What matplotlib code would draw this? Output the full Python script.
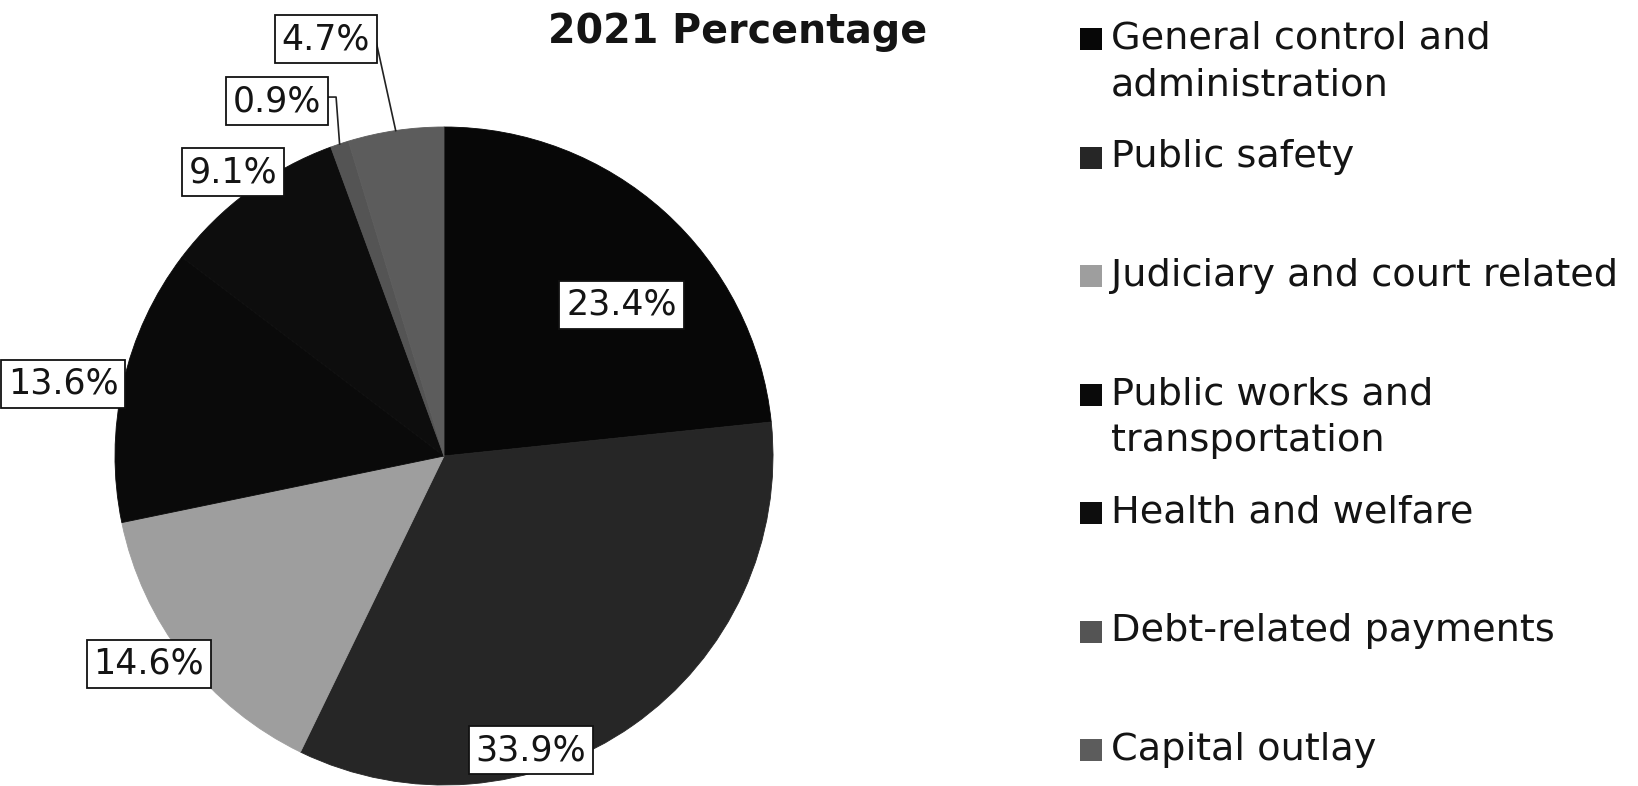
import matplotlib
matplotlib.use("Agg")
import matplotlib.pyplot as plt
from matplotlib.patches import Rectangle
import numpy as np

categories = ["General control and\nadministration", "Public safety",
              "Judiciary and court related", "Public works and\ntransportation",
              "Health and welfare", "Debt-related payments", "Capital outlay"]
values = [23.4, 33.9, 14.6, 13.6, 9.1, 0.9, 4.7]
labels = ["23.4%", "33.9%", "14.6%", "13.6%", "9.1%", "0.9%", "4.7%"]
colors = ["#070707", "#262626", "#9e9e9e", "#0a0a0a", "#0d0d0d", "#545454", "#5c5c5c"]
title = "2021 Percentage"

W, H = 1638, 786
fig = plt.figure(figsize=(W / 100, H / 100), dpi=100)
cx, cy, R = 444, 456, 329
ax = fig.add_axes([(cx - R) / W, (H - cy - R) / H, 2 * R / W, 2 * R / H])
font = "DejaVu Sans"
txtc = "#141414"

wedges, _ = ax.pie(values, colors=colors, startangle=90, counterclock=False,
                   wedgeprops=dict(linewidth=0.6))
for w in wedges:
    w.set_edgecolor(w.get_facecolor())
ax.set_xlim(-1, 1)
ax.set_ylim(-1, 1)
ax.set_aspect("equal")
ax.axis("off")

# label positions (data coords, pie radius = 1)
label_pos = [(0.54, 0.46), (0.264, -0.894), (-0.897, -0.632), (-1.158, 0.219),
             (-0.641, 0.863), (-0.508, 1.079), (-0.359, 1.267)]
for (x, y), t in zip(label_pos, labels):
    ax.text(x, y, t, ha="center", va="center", fontsize=25, family=font,
            color=txtc, clip_on=False, zorder=5,
            bbox=dict(boxstyle="square,pad=0.2", fc="white", ec="#111111", lw=1.3))

# leader lines for the small slices
cum = np.cumsum([0] + values)
def edge_point(i):
    mid = (cum[i] + cum[i + 1]) / 2 / sum(values) * 2 * np.pi
    return np.sin(mid), np.cos(mid)

ex, ey = edge_point(5)
ax.plot([-0.353, -0.328, ex], [1.091, 1.091, ey], color="#222222", lw=1.2,
        clip_on=False, zorder=4)
ex, ey = edge_point(6)
ax.plot([-0.216, ex], [1.304, ey], color="#222222", lw=1.2, clip_on=False, zorder=4)

fig.text(738 / W, 1 - 32 / H, title, ha="center", va="center", fontsize=28.5,
         family=font, weight="bold", color=txtc)

# legend
y0, step = 39, 118.5
sq = 22
for i, (c, lab) in enumerate(zip(colors, categories)):
    yy = y0 + step * i
    fig.patches.append(Rectangle((1080 / W, 1 - (yy + sq / 2) / H), sq / W, sq / H,
                                 transform=fig.transFigure, fc=c, ec="none"))
    fig.text(1111 / W, 1 - (yy - 18.5) / H, lab, ha="left", va="top", fontsize=27.5,
             family=font, color=txtc, linespacing=1.4)

fig.savefig("out.png", dpi=100)
